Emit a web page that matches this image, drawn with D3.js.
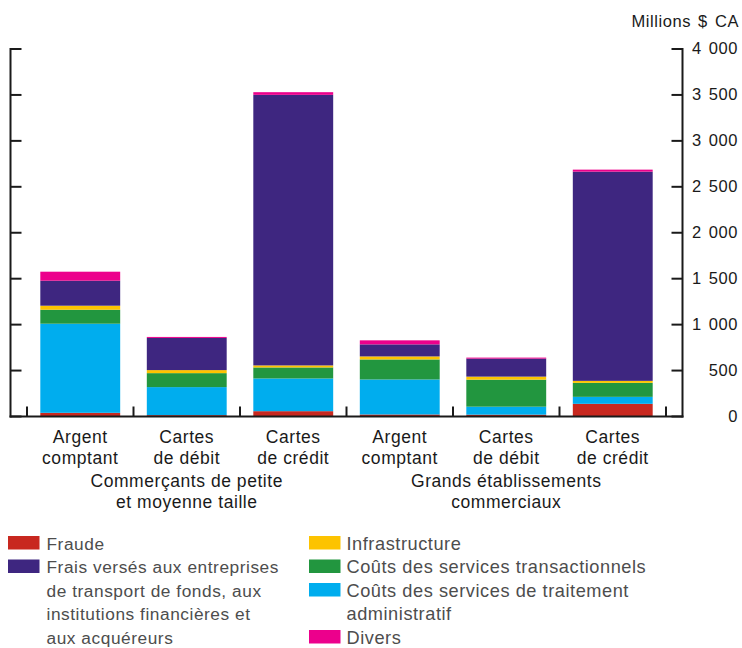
<!DOCTYPE html>
<html lang="fr">
<head>
<meta charset="utf-8">
<script src="https://cdn.jsdelivr.net/npm/d3@7"></script>
<style>
  html, body { margin: 0; padding: 0; background: #fff; }
  svg { display: block; font-family: "Liberation Sans", Arial, Helvetica, sans-serif; }
</style>
</head>
<body>
<svg id="chart" width="742" height="648"></svg>
<script>
// Categories (two-line labels) and their groups
const categories = ["Argent comptant|SMB", "Cartes de débit|SMB", "Cartes de crédit|SMB",
                    "Argent comptant|GE", "Cartes de débit|GE", "Cartes de crédit|GE"];
const categoryLines = [["Argent", "comptant"], ["Cartes", "de débit"], ["Cartes", "de crédit"],
                       ["Argent", "comptant"], ["Cartes", "de débit"], ["Cartes", "de crédit"]];
const groupLines = [["Commerçants de petite", "et moyenne taille"],
                    ["Grands établissements", "commerciaux"]];

// Cost components, millions of Canadian dollars (stacked bottom to top)
const fraude          = [40, 15, 58, 22, 20, 138];
const traitement      = [970, 305, 356, 381, 87, 76];
const transactionnels = [152, 152, 120, 218, 294, 152];
const infrastructure  = [44, 33, 22, 33, 33, 22];
const frais           = [272, 350, 2945, 131, 196, 2277];
const divers          = [98, 11, 29, 44, 11, 22];

const seriesKeys   = ["fraude", "traitement", "transactionnels", "infrastructure", "frais", "divers"];
const seriesValues = [fraude, traitement, transactionnels, infrastructure, frais, divers];
const seriesColors = ["#c8281f", "#00adee", "#22963f", "#fdc300", "#3e2680", "#ec008c"];

// Legend columns
const legendLeft = [
  { key: "fraude", lines: ["Fraude"] },
  { key: "frais",  lines: ["Frais versés aux entreprises", "de transport de fonds, aux",
                           "institutions financières et", "aux acquéreurs"] }
];
const legendRight = [
  { key: "infrastructure",  lines: ["Infrastructure"] },
  { key: "transactionnels", lines: ["Coûts des services transactionnels"] },
  { key: "traitement",      lines: ["Coûts des services de traitement", "administratif"] },
  { key: "divers",          lines: ["Divers"] }
];

const yTicks = [0, 500, 1000, 1500, 2000, 2500, 3000, 3500, 4000];
const yTickLabels = ["0", "500", "1 000", "1 500", "2 000", "2 500", "3 000", "3 500", "4 000"];
const unitLabel = "Millions $ CA";

// ---- layout ----
const svg = d3.select("#chart");
const axisLeftX = 10.5, axisRightX = 682.5;
const y0px = 416.5, yTopPx = 49;
const ink = "#1a1a1a";
const spacing = "0.55px";

const rows = categories.map((c, i) => {
  const r = { cat: c };
  seriesKeys.forEach((k, j) => { r[k] = seriesValues[j][i]; });
  return r;
});

const x = d3.scaleBand().domain(categories).range([27, 666])
  .paddingInner(0.25).paddingOuter(0.125);
const y = d3.scaleLinear().domain([0, 4000]).range([y0px, yTopPx]);
const color = d3.scaleOrdinal().domain(seriesKeys).range(seriesColors);

const stacked = d3.stack().keys(seriesKeys)(rows);

// Bars
svg.append("g").selectAll("g").data(stacked).join("g")
  .attr("fill", d => color(d.key))
  .selectAll("rect").data(d => d).join("rect")
  .attr("x", d => x(d.data.cat))
  .attr("width", x.bandwidth())
  .attr("y", d => y(d[1]))
  .attr("height", d => y(d[0]) - y(d[1]));

// Axes frame
const axes = svg.append("g").attr("stroke", ink).attr("stroke-width", 2).attr("fill", "none");
axes.append("line").attr("x1", axisLeftX).attr("x2", axisLeftX).attr("y1", y(4000) - 1).attr("y2", y(0) + 1);
axes.append("line").attr("x1", axisRightX).attr("x2", axisRightX).attr("y1", y(4000) - 1).attr("y2", y(0) + 1);
axes.append("line").attr("x1", axisLeftX - 1).attr("x2", axisRightX + 1).attr("y1", y(0)).attr("y2", y(0));

// Y ticks on both sides, pointing inward
yTicks.forEach(t => {
  axes.append("line").attr("x1", axisLeftX).attr("x2", axisLeftX + 11).attr("y1", y(t)).attr("y2", y(t));
  axes.append("line").attr("x1", axisRightX).attr("x2", axisRightX - 11).attr("y1", y(t)).attr("y2", y(t));
});

// Category separators along the baseline
const gap = (x.step() - x.bandwidth()) / 2;
const edges = categories.map(c => x(c) - gap).concat([x(categories[categories.length - 1]) + x.bandwidth() + gap]);
edges.forEach(e => {
  axes.append("line").attr("x1", e).attr("x2", e).attr("y1", y(0)).attr("y2", y(0) - 10);
});

// Y tick labels (right) and unit
const ytxt = svg.append("g").attr("font-size", 16.5).attr("fill", ink)
  .style("letter-spacing", spacing).style("word-spacing", "2px");
yTicks.forEach((t, i) => {
  ytxt.append("text").attr("x", 738).attr("y", y(t) + 5).attr("text-anchor", "end").text(yTickLabels[i]);
});
ytxt.append("text").attr("x", 739).attr("y", 27).attr("text-anchor", "end").text(unitLabel);

// Category and group labels
const ctxt = svg.append("g").attr("font-size", 17.5).attr("fill", ink).style("letter-spacing", spacing);
categories.forEach((c, i) => {
  const cx = x(c) + x.bandwidth() / 2;
  categoryLines[i].forEach((line, k) => {
    ctxt.append("text").attr("x", cx).attr("y", 443 + k * 21).attr("text-anchor", "middle").text(line);
  });
});
groupLines.forEach((lines, g) => {
  const first = categories[g * 3], last = categories[g * 3 + 2];
  const cx = (x(first) + x(last) + x.bandwidth()) / 2;
  lines.forEach((line, k) => {
    ctxt.append("text").attr("x", cx).attr("y", 487 + k * 21).attr("text-anchor", "middle").text(line);
  });
});

// Legend
const legend = svg.append("g").attr("fill", "#4d4d4d").style("letter-spacing", spacing);
function drawLegend(items, swatchX, textX, size) {
  let row = 0;
  items.forEach(item => {
    const base = 549.5 + row * 23.5;
    legend.append("rect").attr("x", swatchX).attr("y", base - 13.5).attr("width", 31.5).attr("height", 13.5)
      .attr("fill", color(item.key));
    item.lines.forEach((line, k) => {
      legend.append("text").attr("x", textX).attr("y", base + k * 23.5).attr("font-size", size).text(line);
    });
    row += item.lines.length;
  });
}
drawLegend(legendLeft, 8, 46.5, 17.3);
drawLegend(legendRight, 309, 346.5, 18.2);
</script>
</body>
</html>
